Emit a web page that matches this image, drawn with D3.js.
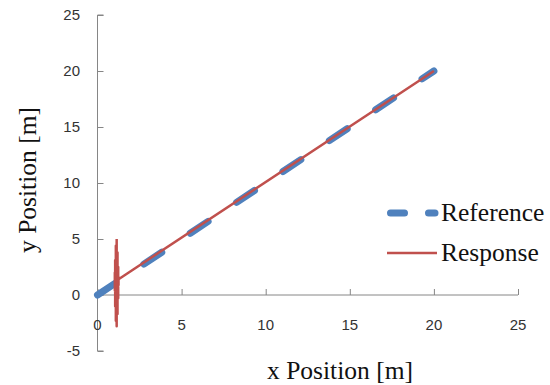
<!DOCTYPE html>
<html><head><meta charset="utf-8">
<script src="https://cdn.jsdelivr.net/npm/d3@7"></script>
<style>
html,body{margin:0;padding:0;background:#fff;}
.sans{font-family:"Liberation Sans",Arial,Helvetica,sans-serif;}
.serif{font-family:"Liberation Serif","Times New Roman",Times,serif;}
</style>
</head><body>
<svg id="chart" width="550" height="385"></svg>
<script>
// Data
const xTicks = [0, 5, 10, 15, 20, 25];
const yTicks = [-5, 0, 5, 10, 15, 20, 25];
const refX = [0, 5, 10, 15, 20];
const refY = [0, 5, 10, 15, 20];
const respX = [1.14, 1.14, 1.09, 1.09, 1.19, 1.19, 1.05, 1.05, 1.23, 1.23, 1.03, 1.03, 1.25, 1.25, 1.14, 20];
const respY = [5.0, -2.8, 4.4, -2.3, 3.8, -1.7, 3.1, -1.0, 2.5, -0.3, 2.0, 0.4, 1.6, 0.9, 1.3, 20];
const seriesNames = ["Reference", "Response"];

const svg = d3.select("#chart");
const x = d3.scaleLinear().domain([0, 25]).range([97.5, 518]);
const y = d3.scaleLinear().domain([-5, 25]).range([351, 15]);
const axisColor = "#868686";
const blue = "#4F81BD", red = "#C0504D";

// y axis
const yAxis = svg.append("g").attr("transform", `translate(${x(0)},0)`)
  .call(d3.axisRight(y).tickValues(yTicks).tickSize(6).tickFormat(""));
yAxis.select(".domain").attr("d", `M6,${y(25)}H0V${y(-5)}H6`);
yAxis.selectAll("path,line").attr("stroke", axisColor);
svg.append("g").selectAll("text").data(yTicks).join("text")
  .attr("class", "sans")
  .attr("x", 80).attr("y", d => y(d)).attr("dy", "0.35em")
  .attr("text-anchor", "end")
  .attr("font-size", 15).attr("fill", "#333").text(d => d);

// x axis
const xAxis = svg.append("g").attr("transform", `translate(0,${y(0)})`)
  .call(d3.axisTop(x).tickValues(xTicks).tickSize(6).tickFormat(""));
xAxis.select(".domain").attr("d", `M${x(0)},0H${x(25)}`);
xAxis.selectAll("path,line").attr("stroke", axisColor);
svg.append("g").selectAll("text").data(xTicks).join("text")
  .attr("class", "sans")
  .attr("x", d => x(d)).attr("y", 325).attr("dy", "0.35em")
  .attr("text-anchor", "middle")
  .attr("font-size", 15).attr("fill", "#333").text(d => d);

// series
const line = d3.line().x(d => x(d[0])).y(d => y(d[1]));
svg.append("path").datum(refX.map((v, i) => [v, refY[i]]))
  .attr("d", line).attr("fill", "none").attr("stroke", blue)
  .attr("stroke-width", 7).attr("stroke-linecap", "round")
  .attr("stroke-dasharray", "21.5,34.2");
svg.append("path").datum(respX.map((v, i) => [v, respY[i]]))
  .attr("d", line).attr("fill", "none").attr("stroke", red)
  .attr("stroke-width", 2.5).attr("stroke-linejoin", "round");

// titles
svg.append("text").attr("class", "serif").attr("x", 340).attr("y", 379).attr("text-anchor", "middle")
  .attr("font-size", 25.5).attr("fill", "#111").text("x Position [m]");
svg.append("text").attr("class", "serif").attr("transform", "translate(36,180) rotate(-90)")
  .attr("text-anchor", "middle")
  .attr("font-size", 25.5).attr("fill", "#111").text("y Position [m]");

// legend
const lg = svg.append("g");
lg.append("line").attr("x1", 390.5).attr("x2", 435).attr("y1", 213).attr("y2", 213)
  .attr("stroke", blue).attr("stroke-width", 7).attr("stroke-linecap", "round")
  .attr("stroke-dasharray", "14,24");
lg.append("line").attr("x1", 387).attr("x2", 437).attr("y1", 253).attr("y2", 253)
  .attr("stroke", red).attr("stroke-width", 2.5);
lg.selectAll("text").data(seriesNames).join("text")
  .attr("class", "serif")
  .attr("x", 441).attr("y", (d, i) => 221 + i * 40)
  .attr("font-size", 25.5).attr("fill", "#111").text(d => d);
</script>
</body></html>
